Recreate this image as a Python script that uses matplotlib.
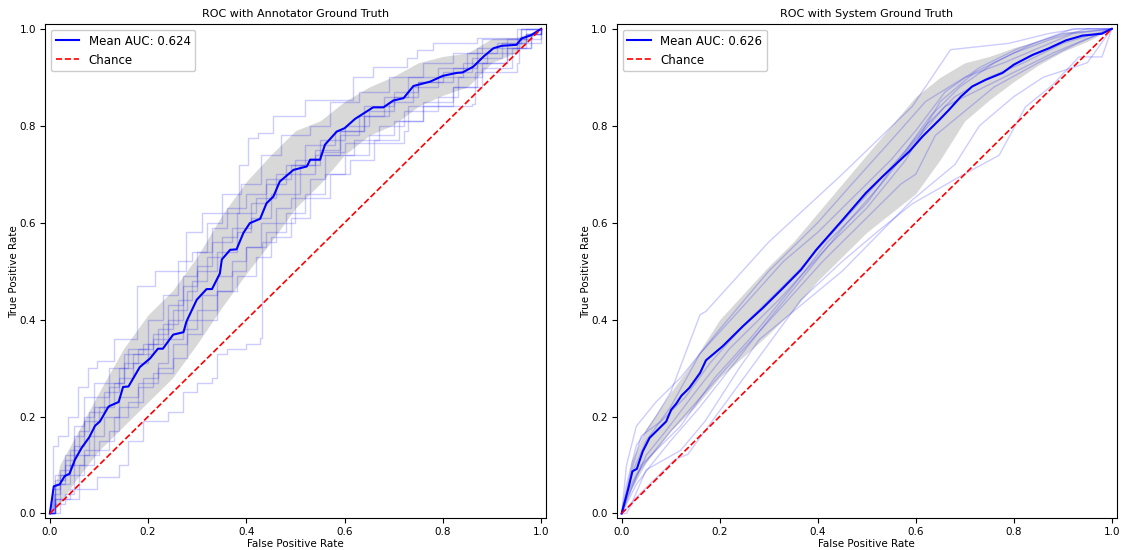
import numpy as np
import matplotlib
matplotlib.use("Agg")
import matplotlib.pyplot as plt

# ---- Annotator ground truth (left panel) ----
# fold curves as step corners (fpr, tpr): curve rises at fpr to tpr, then runs right
ann_folds = [
    [(0, 0), (0.007, 0.14), (0.017, 0.16), (0.037, 0.20), (0.058, 0.26), (0.078, 0.30), (0.095, 0.315),
     (0.13, 0.36), (0.177, 0.47), (0.214, 0.50), (0.278, 0.58), (0.309, 0.62), (0.384, 0.72), (0.404, 0.775),
     (0.424, 0.785), (0.455, 0.82), (0.52, 0.853), (0.617, 0.90), (0.658, 0.922), (0.726, 0.94),
     (0.747, 0.957), (0.78, 0.97), (0.869, 0.981), (0.96, 1.0), (1.0, 1.0)],
    [(0, 0), (0.02, 0.03), (0.06, 0.05), (0.095, 0.075), (0.14, 0.10), (0.16, 0.15), (0.19, 0.19),
     (0.24, 0.21), (0.27, 0.25), (0.30, 0.27), (0.33, 0.28), (0.34, 0.33), (0.36, 0.34), (0.40, 0.35),
     (0.428, 0.362), (0.431, 0.56), (0.46, 0.60), (0.50, 0.66), (0.51, 0.72), (0.55, 0.745), (0.60, 0.765),
     (0.72, 0.79), (0.73, 0.84), (0.86, 0.845), (0.865, 0.91), (0.95, 0.93), (0.955, 0.97), (1.0, 1.0)],
    [(0, 0), (0.01, 0.08), (0.03, 0.12), (0.05, 0.18), (0.07, 0.24), (0.09, 0.27), (0.12, 0.30), (0.16, 0.34),
     (0.20, 0.40), (0.23, 0.45), (0.26, 0.52), (0.29, 0.54), (0.32, 0.60), (0.35, 0.66), (0.39, 0.68),
     (0.43, 0.74), (0.47, 0.78), (0.53, 0.80), (0.57, 0.85), (0.63, 0.87), (0.69, 0.90), (0.76, 0.93),
     (0.82, 0.95), (0.88, 0.98), (0.95, 1.0), (1.0, 1.0)],
    [(0, 0), (0.005, 0.05), (0.02, 0.09), (0.04, 0.13), (0.06, 0.17), (0.08, 0.21), (0.11, 0.25), (0.14, 0.28),
     (0.17, 0.31), (0.20, 0.35), (0.23, 0.39), (0.26, 0.44), (0.29, 0.48), (0.32, 0.53), (0.35, 0.57),
     (0.38, 0.62), (0.42, 0.65), (0.46, 0.70), (0.50, 0.73), (0.55, 0.77), (0.60, 0.80), (0.65, 0.83),
     (0.70, 0.86), (0.75, 0.89), (0.80, 0.91), (0.86, 0.94), (0.92, 0.97), (0.97, 0.99), (1.0, 1.0)],
    [(0, 0), (0.01, 0.03), (0.04, 0.05), (0.06, 0.10), (0.09, 0.13), (0.12, 0.17), (0.14, 0.24), (0.18, 0.27),
     (0.22, 0.30), (0.25, 0.35), (0.28, 0.40), (0.31, 0.45), (0.34, 0.49), (0.37, 0.52), (0.40, 0.55),
     (0.43, 0.60), (0.46, 0.63), (0.49, 0.65), (0.53, 0.69), (0.56, 0.74), (0.62, 0.77), (0.67, 0.80),
     (0.72, 0.83), (0.79, 0.86), (0.83, 0.90), (0.88, 0.93), (0.93, 0.96), (0.97, 0.99), (1.0, 1.0)],
    [(0, 0), (0.01, 0.06), (0.03, 0.10), (0.05, 0.14), (0.07, 0.19), (0.10, 0.22), (0.13, 0.27), (0.15, 0.33),
     (0.19, 0.35), (0.22, 0.38), (0.25, 0.42), (0.28, 0.46), (0.30, 0.51), (0.33, 0.56), (0.37, 0.59),
     (0.41, 0.64), (0.44, 0.68), (0.48, 0.72), (0.52, 0.76), (0.58, 0.79), (0.64, 0.84), (0.70, 0.87),
     (0.75, 0.89), (0.82, 0.92), (0.87, 0.96), (0.93, 0.98), (0.97, 1.0), (1.0, 1.0)],
    [(0, 0), (0.01, 0.02), (0.03, 0.04), (0.05, 0.08), (0.07, 0.12), (0.10, 0.15), (0.13, 0.20), (0.16, 0.23),
     (0.19, 0.28), (0.22, 0.31), (0.24, 0.36), (0.27, 0.38), (0.30, 0.42), (0.34, 0.46), (0.37, 0.50),
     (0.40, 0.55), (0.44, 0.58), (0.48, 0.62), (0.52, 0.66), (0.56, 0.70), (0.60, 0.74), (0.65, 0.78),
     (0.70, 0.81), (0.76, 0.84), (0.82, 0.88), (0.87, 0.93), (0.93, 0.96), (0.98, 0.99), (1.0, 1.0)],
    [(0, 0), (0.008, 0.04), (0.02, 0.08), (0.05, 0.12), (0.08, 0.16), (0.09, 0.22), (0.12, 0.26), (0.14, 0.30),
     (0.17, 0.33), (0.21, 0.36), (0.24, 0.40), (0.27, 0.47), (0.30, 0.50), (0.34, 0.54), (0.38, 0.58),
     (0.41, 0.61), (0.45, 0.66), (0.50, 0.70), (0.54, 0.74), (0.59, 0.78), (0.63, 0.82), (0.68, 0.86),
     (0.73, 0.90), (0.79, 0.92), (0.85, 0.95), (0.91, 0.97), (0.96, 1.0), (1.0, 1.0)],
    [(0, 0), (0.01, 0.03), (0.02, 0.06), (0.04, 0.10), (0.07, 0.13), (0.09, 0.16), (0.11, 0.20), (0.14, 0.22),
     (0.18, 0.26), (0.21, 0.29), (0.25, 0.32), (0.28, 0.37), (0.31, 0.40), (0.34, 0.46), (0.38, 0.49),
     (0.42, 0.53), (0.45, 0.57), (0.49, 0.61), (0.53, 0.65), (0.57, 0.70), (0.61, 0.73), (0.66, 0.77),
     (0.71, 0.81), (0.76, 0.85), (0.82, 0.88), (0.88, 0.92), (0.94, 0.96), (0.98, 0.99), (1.0, 1.0)],
    [(0, 0), (0.01, 0.07), (0.03, 0.11), (0.05, 0.16), (0.07, 0.20), (0.09, 0.24), (0.12, 0.27), (0.15, 0.31),
     (0.18, 0.34), (0.21, 0.37), (0.24, 0.43), (0.27, 0.49), (0.30, 0.54), (0.33, 0.59), (0.36, 0.63),
     (0.40, 0.66), (0.44, 0.69), (0.49, 0.72), (0.54, 0.75), (0.59, 0.79), (0.64, 0.82), (0.69, 0.85),
     (0.74, 0.88), (0.79, 0.90), (0.84, 0.93), (0.89, 0.95), (0.95, 0.98), (1.0, 1.0)],
]

ann_mean_fpr = [0, 0.008, 0.02, 0.03, 0.04, 0.051, 0.065, 0.08, 0.092, 0.102, 0.119, 0.122, 0.14, 0.149,
                0.16, 0.183, 0.204, 0.22, 0.23, 0.251, 0.272, 0.278, 0.299, 0.319, 0.33, 0.346, 0.35, 0.367,
                0.38, 0.394, 0.407, 0.428, 0.441, 0.455, 0.468, 0.496, 0.523, 0.53, 0.55, 0.56, 0.584, 0.60,
                0.621, 0.658, 0.679, 0.699, 0.72, 0.74, 0.774, 0.80, 0.828, 0.84, 0.862, 0.883, 0.903, 0.92,
                0.95, 0.96, 0.98, 1.0]
ann_mean_tpr = [0, 0.056, 0.06, 0.077, 0.082, 0.111, 0.136, 0.157, 0.181, 0.19, 0.22, 0.222, 0.23, 0.261,
                0.262, 0.302, 0.32, 0.34, 0.34, 0.369, 0.374, 0.396, 0.441, 0.463, 0.463, 0.495, 0.524, 0.544,
                0.545, 0.579, 0.599, 0.608, 0.64, 0.654, 0.685, 0.709, 0.716, 0.73, 0.73, 0.761, 0.788, 0.795,
                0.814, 0.838, 0.838, 0.852, 0.857, 0.882, 0.891, 0.903, 0.909, 0.91, 0.922, 0.943, 0.96, 0.965,
                0.967, 0.98, 0.987, 1.0]

band_fpr = [0, 0.02, 0.05, 0.1, 0.15, 0.2, 0.25, 0.3, 0.35, 0.4, 0.45, 0.5, 0.55, 0.6, 0.65, 0.7, 0.75,
            0.8, 0.85, 0.9, 0.95, 1.0]
ann_band_mid = [0, 0.06, 0.11, 0.19, 0.26, 0.32, 0.37, 0.44, 0.52, 0.59, 0.65, 0.71, 0.745, 0.795, 0.83,
                0.852, 0.885, 0.903, 0.915, 0.955, 0.967, 1.0]
ann_band_std = [0, 0.04, 0.045, 0.06, 0.08, 0.09, 0.09, 0.09, 0.095, 0.095, 0.09, 0.08, 0.065, 0.055,
                0.05, 0.05, 0.045, 0.04, 0.035, 0.025, 0.015, 0]

# ---- System ground truth (right panel) ----
sys_folds = [
    [(0, 0), (0.01, 0.06), (0.03, 0.14), (0.07, 0.20), (0.10, 0.25), (0.13, 0.33), (0.16, 0.41), (0.172, 0.417),
     (0.30, 0.56), (0.45, 0.70), (0.593, 0.84), (0.671, 0.957), (0.79, 0.97), (0.87, 0.99), (0.93, 1.0), (1.0, 1.0)],
    [(0, 0), (0.01, 0.0), (0.026, 0.029), (0.108, 0.111), (0.135, 0.122), (0.366, 0.441), (0.45, 0.52),
     (0.525, 0.584), (0.593, 0.639), (0.695, 0.698), (0.77, 0.739), (0.824, 0.839), (0.878, 0.883),
     (0.933, 0.942), (0.98, 0.942), (1.0, 1.0)],
    [(0, 0), (0.02, 0.02), (0.05, 0.09), (0.12, 0.13), (0.17, 0.19), (0.24, 0.30), (0.281, 0.359),
     (0.45, 0.50), (0.593, 0.647), (0.68, 0.72), (0.73, 0.80), (0.80, 0.86), (0.86, 0.90), (0.95, 0.93), (1.0, 1.0)],
    [(0, 0), (0.01, 0.10), (0.03, 0.18), (0.07, 0.23), (0.12, 0.28), (0.2, 0.38), (0.3, 0.50), (0.40, 0.60),
     (0.47, 0.68), (0.55, 0.77), (0.62, 0.85), (0.70, 0.90), (0.78, 0.93), (0.85, 0.96), (0.92, 0.99), (1.0, 1.0)],
    [(0, 0), (0.02, 0.05), (0.05, 0.12), (0.09, 0.17), (0.15, 0.25), (0.22, 0.34), (0.32, 0.44), (0.42, 0.55),
     (0.50, 0.63), (0.58, 0.73), (0.65, 0.85), (0.72, 0.91), (0.80, 0.95), (0.88, 0.98), (0.95, 1.0), (1.0, 1.0)],
    [(0, 0), (0.01, 0.03), (0.04, 0.10), (0.08, 0.14), (0.12, 0.18), (0.19, 0.28), (0.27, 0.37), (0.35, 0.47),
     (0.42, 0.56), (0.50, 0.64), (0.55, 0.71), (0.62, 0.80), (0.68, 0.86), (0.75, 0.90), (0.82, 0.93),
     (0.90, 0.97), (1.0, 1.0)],
    [(0, 0), (0.02, 0.08), (0.05, 0.15), (0.10, 0.22), (0.16, 0.33), (0.25, 0.43), (0.33, 0.52), (0.40, 0.58),
     (0.48, 0.66), (0.55, 0.73), (0.60, 0.79), (0.66, 0.87), (0.73, 0.92), (0.81, 0.96), (0.90, 0.99), (1.0, 1.0)],
    [(0, 0), (0.01, 0.04), (0.03, 0.08), (0.06, 0.12), (0.10, 0.17), (0.17, 0.25), (0.24, 0.33), (0.33, 0.43),
     (0.41, 0.52), (0.50, 0.61), (0.57, 0.68), (0.60, 0.70), (0.64, 0.78), (0.70, 0.83), (0.76, 0.88),
     (0.85, 0.93), (0.93, 0.97), (1.0, 1.0)],
    [(0, 0), (0.015, 0.07), (0.04, 0.16), (0.08, 0.19), (0.13, 0.24), (0.18, 0.31), (0.26, 0.40), (0.36, 0.50),
     (0.44, 0.59), (0.52, 0.68), (0.58, 0.75), (0.63, 0.82), (0.69, 0.88), (0.76, 0.93), (0.84, 0.97),
     (0.92, 1.0), (1.0, 1.0)],
    [(0, 0), (0.01, 0.02), (0.03, 0.06), (0.06, 0.10), (0.10, 0.15), (0.16, 0.22), (0.23, 0.31), (0.30, 0.40),
     (0.38, 0.50), (0.46, 0.60), (0.53, 0.68), (0.60, 0.77), (0.66, 0.84), (0.72, 0.87), (0.80, 0.91),
     (0.88, 0.95), (0.95, 0.98), (1.0, 1.0)],
]

sys_mean_fpr = [0, 0.013, 0.022, 0.031, 0.043, 0.057, 0.074, 0.091, 0.101, 0.111, 0.122, 0.138, 0.16, 0.172,
                0.206, 0.247, 0.288, 0.329, 0.366, 0.397, 0.451, 0.498, 0.532, 0.587, 0.614, 0.648, 0.668,
                0.692, 0.715, 0.743, 0.777, 0.80, 0.838, 0.872, 0.906, 0.94, 0.98, 1.0]
sys_mean_tpr = [0, 0.049, 0.087, 0.092, 0.128, 0.156, 0.173, 0.19, 0.214, 0.226, 0.243, 0.259, 0.29, 0.316,
                0.345, 0.386, 0.424, 0.465, 0.503, 0.544, 0.606, 0.661, 0.695, 0.747, 0.778, 0.812, 0.833,
                0.86, 0.881, 0.895, 0.909, 0.926, 0.946, 0.96, 0.976, 0.986, 0.99, 1.0]

sys_band_mid = [0, 0.08, 0.14, 0.21, 0.27, 0.34, 0.39, 0.44, 0.49, 0.55, 0.605, 0.66, 0.71, 0.76, 0.815,
                0.87, 0.898, 0.926, 0.95, 0.973, 0.986, 1.0]
sys_band_std = [0, 0.03, 0.035, 0.04, 0.05, 0.06, 0.065, 0.07, 0.07, 0.07, 0.075, 0.08, 0.09, 0.1, 0.085,
                0.06, 0.045, 0.035, 0.025, 0.02, 0.012, 0]

panels = [
    ("ROC with Annotator Ground Truth", ann_folds, ann_mean_fpr, ann_mean_tpr, ann_band_mid, ann_band_std,
     "Mean AUC: 0.624", "steps-post"),
    ("ROC with System Ground Truth", sys_folds, sys_mean_fpr, sys_mean_tpr, sys_band_mid, sys_band_std,
     "Mean AUC: 0.626", "default"),
]

fig = plt.figure(figsize=(11.24, 5.5), dpi=100)
axes = [fig.add_axes([0.040, 0.0576, 0.4458, 0.8988]),
        fig.add_axes([0.5487, 0.0576, 0.4448, 0.8988])]

for ax, (title, folds, mfpr, mtpr, bmid, bstd, label, ds) in zip(axes, panels):
    for fold in folds:
        fx, fy = zip(*fold)
        ax.plot(fx, fy, color='b', alpha=0.2, lw=1, drawstyle=ds)

    mid = np.array(bmid)
    std = np.array(bstd)
    ax.fill_between(band_fpr, np.maximum(mid - std, 0), np.minimum(mid + std, 1),
                    color='grey', alpha=0.3, lw=0)

    ax.plot(mfpr, mtpr, color='b', lw=1.5, label=label)
    ax.plot([0, 1], [0, 1], 'r--', lw=1.2, label='Chance')

    ax.set_xlim(-0.01, 1.01)
    ax.set_ylim(-0.01, 1.01)
    ax.set_title(title, fontsize=8, pad=5)
    ax.set_xlabel('False Positive Rate', fontsize=7.5, labelpad=1)
    ax.set_ylabel('True Positive Rate', fontsize=7.5, labelpad=0)
    ax.tick_params(labelsize=7.5, length=3.5, pad=3)
    ax.legend(loc='upper left', fontsize=8.5, framealpha=1)

fig.savefig('out.png', dpi=100)
